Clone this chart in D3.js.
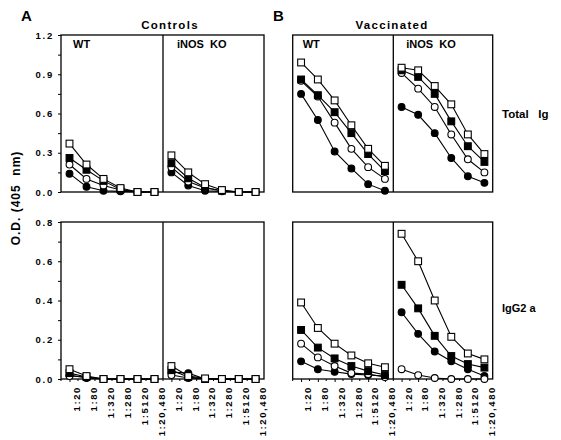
<!DOCTYPE html>
<html>
<head>
<meta charset="utf-8">
<script src="https://cdn.jsdelivr.net/npm/d3@7"></script>
<style>
  html, body { margin: 0; padding: 0; background: #fff; }
  svg { display: block; font-family: "Liberation Sans", Arial, Helvetica, sans-serif; font-weight: bold; }
</style>
</head>
<body>
<svg id="chart" width="561" height="440"></svg>
<script>
// ---- data ----
const dilutions = ["1:20", "1:80", "1:320", "1:280", "1:5120", "1:20,480"];
const seriesMarkers = ["filledCircle", "openCircle", "filledSquare", "openSquare"]; // drawing order
const strains = ["WT", "iNOS\u00a0\u00a0KO"];
const groups = ["Controls", "Vaccinated"];
const isotypes = ["Total\u00a0\u00a0\u00a0Ig", "IgG2\u00a0a"];
const totalIgTicks = [0, 0.3, 0.6, 0.9, 1.2];
const igg2aTicks = [0, 0.2, 0.4, 0.6, 0.8];

// each: [filledCircle, openCircle, filledSquare, openSquare]
const controlsWT_totalIg = [
  [0.14, 0.04, 0.01, 0.005, 0, 0],
  [0.21, 0.10, 0.05, 0.015, 0, 0],
  [0.26, 0.17, 0.085, 0.02, 0, 0],
  [0.37, 0.21, 0.10, 0.03, 0, 0]
];
const controlsKO_totalIg = [
  [0.15, 0.05, 0.01, 0.005, 0, 0],
  [0.19, 0.08, 0.03, 0.01, 0, 0],
  [0.22, 0.105, 0.035, 0.01, 0, 0],
  [0.28, 0.15, 0.06, 0.015, 0, 0]
];
const vaccWT_totalIg = [
  [0.75, 0.55, 0.31, 0.18, 0.06, 0.01],
  [0.85, 0.73, 0.53, 0.33, 0.19, 0.10],
  [0.86, 0.74, 0.61, 0.45, 0.29, 0.16],
  [0.99, 0.86, 0.70, 0.51, 0.33, 0.20]
];
const vaccKO_totalIg = [
  [0.65, 0.59, 0.45, 0.26, 0.12, 0.07],
  [0.91, 0.79, 0.65, 0.44, 0.25, 0.15],
  [0.93, 0.88, 0.75, 0.54, 0.35, 0.23],
  [0.95, 0.93, 0.81, 0.67, 0.44, 0.29]
];
const controlsWT_igg2a = [
  [0.02, 0.005, 0, 0, 0, 0],
  [0.015, 0.01, 0, 0, 0, 0],
  [0.03, 0.01, 0, 0, 0, 0],
  [0.05, 0.015, 0, 0, 0, 0]
];
const controlsKO_igg2a = [
  [0.035, 0.03, 0, 0, 0, 0],
  [0.02, 0.005, 0, 0, 0, 0],
  [0.045, 0.01, 0, 0, 0, 0],
  [0.066, 0.015, 0.003, 0, 0, 0]
];
const vaccWT_igg2a = [
  [0.09, 0.05, 0.037, 0.025, 0.02, 0.015],
  [0.18, 0.11, 0.066, 0.03, 0.025, 0.01],
  [0.25, 0.16, 0.105, 0.066, 0.04, 0.02],
  [0.39, 0.26, 0.18, 0.12, 0.08, 0.06]
];
const vaccKO_igg2a = [
  [0.34, 0.23, 0.14, 0.09, 0.05, 0.015],
  [0.05, 0.02, 0.005, 0, 0, 0],
  [0.48, 0.36, 0.22, 0.117, 0.076, 0.058],
  [0.74, 0.60, 0.40, 0.215, 0.13, 0.10]
];

// ---- layout ----
const svg = d3.select("#chart");
const panelX = [[61, 163, 264], [292.7, 393.3, 492.7]]; // [left, divider, right] per group
const rowY = [[35, 192], [222, 379]]; // [top, bottom] per row
const rowMax = [1.2, 0.8];
const rowTicks = [totalIgTicks, igg2aTicks];
const rowMinorStep = [0.15, 0.1];

const panelData = [
  [[controlsWT_totalIg, controlsKO_totalIg], [vaccWT_totalIg, vaccKO_totalIg]],
  [[controlsWT_igg2a, controlsKO_igg2a], [vaccWT_igg2a, vaccKO_igg2a]]
];

function drawMarker(sel, type, x, y) {
  const fill = type.startsWith("filled") ? "#000" : "#fff";
  if (type.endsWith("Square")) {
    sel.append("rect").attr("x", x - 3.4).attr("y", y - 3.4).attr("width", 6.8).attr("height", 6.8)
      .attr("fill", fill).attr("stroke", "#000").attr("stroke-width", 1.1);
  } else {
    sel.append("circle").attr("cx", x).attr("cy", y).attr("r", 3.4)
      .attr("fill", fill).attr("stroke", "#000").attr("stroke-width", 1.1);
  }
}

for (let r = 0; r < 2; r++) {
  const [top, bottom] = rowY[r];
  const y = d3.scaleLinear().domain([0, rowMax[r]]).range([bottom, top]);
  for (let g = 0; g < 2; g++) {
    const [L, M, R] = panelX[g];
    const gEl = svg.append("g");
    // frame
    gEl.append("rect").attr("x", L).attr("y", top).attr("width", R - L).attr("height", bottom - top)
      .attr("fill", "none").attr("stroke", "#000").attr("stroke-width", 1.3);
    gEl.append("line").attr("x1", M).attr("x2", M).attr("y1", top).attr("y2", bottom)
      .attr("stroke", "#000").attr("stroke-width", 1.3);

    // y axis for controls
    if (g === 0) {
      const minor = d3.range(0, rowMax[r] + 1e-9, rowMinorStep[r]);
      const ax = d3.axisLeft(y).tickValues(minor).tickSize(3).tickPadding(4)
        .tickFormat(v => rowTicks[r].some(t => Math.abs(t - v) < 1e-6) ? d3.format(".1f")(v) : "");
      const axG = gEl.append("g").attr("transform", `translate(${L},0)`).call(ax);
      axG.select(".domain").remove();
      axG.selectAll("line").attr("stroke", "#000").attr("stroke-width", 1);
      axG.selectAll("text").attr("font-size", 9.5).attr("font-weight", "bold")
        .attr("font-family", "'Liberation Sans', Arial, sans-serif").attr("letter-spacing", "1.8px")
        .attr("fill", "#000");
    }

    for (let s = 0; s < 2; s++) {
      const x0 = s === 0 ? L : M;
      const x1 = s === 0 ? M : R;
      const x = d3.scalePoint().domain(dilutions).range([x0, x1]).padding(0.5);
      const data = panelData[r][g][s];

      // x axis ticks and labels on bottom row
      if (r === 1) {
        const ax = d3.axisBottom(x).tickSize(3).tickFormat("");
        const axG = gEl.append("g").attr("transform", `translate(0,${bottom})`).call(ax);
        axG.select(".domain").remove();
        axG.selectAll("line").attr("stroke", "#000");
        const step = x.step();
        const mids = dilutions.slice(0, -1).map(d => x(d) + step / 2);
        mids.push(x(dilutions[0]) - step / 2);
        gEl.selectAll(null).data(mids).enter().append("line")
          .attr("x1", d => d).attr("x2", d => d).attr("y1", bottom).attr("y2", bottom + 2)
          .attr("stroke", "#000");
        gEl.selectAll(null).data(dilutions).enter().append("text")
          .attr("transform", d => `translate(${x(d) + 7},${bottom + 7}) rotate(-90)`)
          .attr("text-anchor", "end").attr("dy", "0.35em")
          .attr("font-size", 9.5).attr("letter-spacing", "1.6px").text(d => d);
      }

      // lines
      const line = d3.line().x((d, i) => x(dilutions[i])).y(d => y(d));
      data.forEach(vals => {
        gEl.append("path").attr("d", line(vals)).attr("fill", "none")
          .attr("stroke", "#000").attr("stroke-width", 1.1);
      });
      // markers
      data.forEach((vals, k) => {
        vals.forEach((v, i) => drawMarker(gEl, seriesMarkers[k], x(dilutions[i]), y(v)));
      });

      // strain labels on top row
      if (r === 0) {
        gEl.append("text").attr("x", x0 + (g === 0 ? 12 : 10) + (s === 1 && g === 0 ? 2 : 0) + (s === 1 && g === 1 ? 3 : 0))
          .attr("y", 48).attr("font-size", 11).text(strains[s]);
      }
    }
  }
}

// group titles
svg.append("text").attr("x", 170).attr("y", 29).attr("text-anchor", "middle")
  .attr("font-size", 11.5).attr("letter-spacing", "1.3px").text(groups[0]);
svg.append("text").attr("x", 392).attr("y", 29).attr("text-anchor", "middle")
  .attr("font-size", 11.5).attr("letter-spacing", "1.3px").text(groups[1]);
// panel letters
svg.append("text").attr("x", 21).attr("y", 21).attr("font-size", 15).text("A");
svg.append("text").attr("x", 273).attr("y", 21).attr("font-size", 15).text("B");
// row labels
svg.append("text").attr("x", 502).attr("y", 118).attr("font-size", 11.5).text(isotypes[0]);
svg.append("text").attr("x", 502).attr("y", 312).attr("font-size", 11).text(isotypes[1]);
// y axis title
svg.append("text").attr("transform", "translate(20,198) rotate(-90)").attr("text-anchor", "middle")
  .attr("font-size", 12).attr("letter-spacing", "1px").text("O.D. (405\u00a0\u00a0nm)");
</script>
</body>
</html>
